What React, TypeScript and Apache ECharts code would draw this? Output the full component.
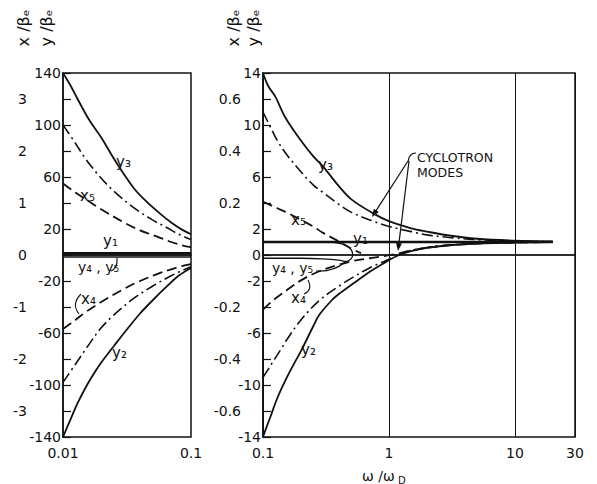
import React, { useEffect, useRef } from "react";
import * as echarts from "echarts";

// ---------- tick labels ----------
const leftXTickValues = [0.01, 0.1];
const leftXTickLabels = ["0.01", "0.1"];
const rightXTickValues = [0.1, 1, 10, 30];
const rightXTickLabels = ["0.1", "1", "10", "30"];

const leftInnerTicks = [140, 100, 60, 20, -20, -60, -100, -140];
const leftOuterTickValues = [120, 80, 40, 0, -40, -80, -120];
const leftOuterTickLabels = ["3", "2", "1", "0", "-1", "-2", "-3"];
const rightInnerTicks = [14, 10, 6, 2, 0, -2, -6, -10, -14];
const rightOuterTickValues = [12, 8, 4, -4, -8, -12];
const rightOuterTickLabels = ["0.6", "0.4", "0.2", "-0.2", "-0.4", "-0.6"];

// ---------- left panel (ω/ωD 0.01 … 0.1, y/βe) ----------
const leftY3 = [[0.01, 140], [0.0115, 130], [0.013, 120], [0.016, 104], [0.02, 90], [0.025, 74], [0.03, 62], [0.036, 51], [0.045, 41], [0.057, 32], [0.07, 25], [0.085, 19.5], [0.1, 16]];
const leftDashDotUpper = [[0.01, 100], [0.0125, 86], [0.015, 74], [0.0195, 60], [0.025, 49], [0.035, 37], [0.05, 27], [0.065, 21], [0.08, 16], [0.1, 12]];
const leftX5 = [[0.01, 55], [0.0125, 48], [0.015, 43], [0.02, 35], [0.03, 25], [0.04, 19], [0.055, 14], [0.07, 10], [0.085, 7.5], [0.1, 6]];
const leftY1 = [[0.01, 1.5], [0.1, 1.5]];
const leftY45 = [[0.01, -1.5], [0.1, -1.5]];
const leftX4 = [[0.01, -57], [0.0125, -50], [0.015, -44], [0.02, -36], [0.03, -26], [0.04, -20], [0.055, -14.5], [0.07, -11], [0.085, -8.5], [0.1, -7]];
const leftDashDotLower = [[0.01, -98], [0.0125, -84], [0.0154, -71], [0.0195, -57], [0.025, -46], [0.035, -34], [0.05, -24], [0.07, -16], [0.085, -12], [0.1, -9]];
const leftY2 = [[0.01, -140], [0.0115, -126], [0.013, -114], [0.0154, -100], [0.018, -89], [0.0205, -81], [0.025, -70], [0.03, -60], [0.04, -45], [0.05, -35], [0.065, -24], [0.08, -16], [0.1, -10]];
const leftZero = [[0.01, 0], [0.1, 0]];

// ---------- right panel (ω/ωD 0.1 … 30, y/βe) ----------
const rightY3 = [[0.1, 14], [0.11, 13], [0.125, 12.2], [0.15, 10.6], [0.2, 8.8], [0.25, 7.6], [0.3, 6.8], [0.4, 5.3], [0.5, 4.3], [0.75, 3.2], [1, 2.6], [1.5, 2.05], [2, 1.8], [3, 1.5], [5, 1.25], [10, 1.1], [20, 1.04]];
const rightDashDotUpper = [[0.1, 11], [0.115, 9.8], [0.13, 8.8], [0.155, 7.7], [0.2, 6.4], [0.25, 5.4], [0.3, 4.8], [0.4, 3.9], [0.5, 3.3], [0.75, 2.6], [1, 2.2], [1.5, 1.8], [2, 1.55], [3, 1.35], [5, 1.18], [10, 1.07], [20, 1.02]];
const rightX5 = [[0.1, 4.1], [0.13, 3.6], [0.16, 3.2], [0.2, 2.7], [0.25, 2.2], [0.3, 1.7], [0.4, 1.05], [0.5, 0.5], [0.6, 0.15]];
const rightY1 = [[0.1, 1], [20, 1]];
const rightY45 = [[0.1, -0.25], [0.2, -0.25], [0.3, -0.3], [0.4, -0.4], [0.46, -0.5], [0.5, -0.3], [0.515, 0], [0.505, 0.35], [0.47, 0.65], [0.42, 0.86], [0.36, 0.97], [0.32, 1.0]];
const rightX4 = [[0.1, -4.2], [0.12, -3.5], [0.155, -2.7], [0.2, -1.95], [0.28, -1.25], [0.4, -0.75], [0.52, -0.45], [0.7, -0.25], [0.9, -0.1], [1.1, 0.05], [1.5, 0.35], [2, 0.55], [3, 0.75], [5, 0.88], [10, 0.96], [20, 1.0]];
const rightDashDotLower = [[0.1, -9.4], [0.11, -8.8], [0.12, -8.2], [0.14, -7.2], [0.155, -6.5], [0.2, -5.0], [0.28, -3.5], [0.4, -2.4], [0.52, -1.7], [0.7, -1.0], [0.96, -0.4], [1.2, 0.05], [1.5, 0.35], [2, 0.58], [3, 0.77], [5, 0.89], [10, 0.96], [20, 1.0]];
const rightY2 = [[0.1, -14], [0.107, -13.2], [0.114, -12.5], [0.13, -11], [0.155, -9.4], [0.18, -8.2], [0.2, -7.4], [0.25, -5.5], [0.28, -4.6], [0.35, -3.5], [0.4, -3.0], [0.52, -2.2], [0.7, -1.3], [0.96, -0.5], [1.2, 0.0], [1.5, 0.3], [2, 0.55], [3, 0.75], [5, 0.88], [10, 0.95], [20, 1.0]];
const rightZero = [[0.1, 0], [30, 0]];

const FONT = '"DejaVu Sans", sans-serif';
const INK = "#111";

function pickLabel(values: number[], labels: string[], v: number, log = false) {
  const i = values.findIndex((t) =>
    log ? Math.abs(Math.log10(t) - Math.log10(v)) < 1e-3 : Math.abs(t - v) < 1e-6
  );
  return i >= 0 ? labels[i] : "";
}

const SOLID = "solid";
const DASHED = [10, 5];
const DASHDOT = [11, 4, 2, 4];

function line(name: string, data: number[][], xi: number, yi: number, type: any, width: number, smooth: any = 0.35) {
  return {
    name,
    type: "line",
    data,
    xAxisIndex: xi,
    yAxisIndex: yi,
    showSymbol: false,
    symbol: "none",
    smooth,
    silent: true,
    lineStyle: { color: INK, width, type },
  };
}

function txt(text: string, x: number, y: number, size = 14, extra: any = {}, rotation = 0) {
  return {
    type: "text",
    x,
    y,
    rotation,
    silent: true,
    style: {
      text,
      fill: INK,
      font: `${size}px ${FONT}`,
      align: "left",
      verticalAlign: "middle",
      ...extra,
    },
  };
}

function arrow(x1: number, y1: number, x2: number, y2: number) {
  const dx = x2 - x1;
  const dy = y2 - y1;
  const len = Math.sqrt(dx * dx + dy * dy);
  const ux = dx / len;
  const uy = dy / len;
  const L = 8;
  const W = 3;
  return [
    {
      type: "line",
      silent: true,
      shape: { x1, y1, x2: x2 - ux * L * 0.8, y2: y2 - uy * L * 0.8 },
      style: { stroke: INK, lineWidth: 1.2 },
    },
    {
      type: "polygon",
      silent: true,
      shape: {
        points: [
          [x2, y2],
          [x2 - ux * L - uy * W, y2 - uy * L + ux * W],
          [x2 - ux * L + uy * W, y2 - uy * L - ux * W],
        ],
      },
      style: { fill: INK },
    },
  ];
}

function curve(x1: number, y1: number, cpx1: number, cpy1: number, x2: number, y2: number) {
  return {
    type: "bezierCurve",
    silent: true,
    shape: { x1, y1, cpx1, cpy1, x2, y2 },
    style: { stroke: INK, lineWidth: 1.1, fill: "none" },
  };
}

export default function App() {
  const ref = useRef<HTMLDivElement>(null);

  useEffect(() => {
    if (!ref.current) return;
    const chart = echarts.init(ref.current, undefined, { renderer: "svg" });

    const axisLineStyle = { color: INK, width: 1.5 };
    const labelBase = { color: INK, fontFamily: FONT, fontSize: 14 };
    const UP = Math.PI / 2;

    const option: any = {
      animation: false,
      backgroundColor: "#fff",
      textStyle: { fontFamily: FONT },
      grid: [
        { left: 63, top: 73, width: 128, height: 364, show: true, borderColor: INK, borderWidth: 1.5, backgroundColor: "transparent" },
        { left: 263, top: 73, width: 312, height: 364, show: true, borderColor: INK, borderWidth: 1.5, backgroundColor: "transparent" },
      ],
      xAxis: [
        {
          type: "log",
          logBase: 10,
          gridIndex: 0,
          min: 0.01,
          max: 0.1,
          axisLine: { lineStyle: axisLineStyle },
          axisTick: { show: false },
          splitLine: { show: false },
          axisLabel: { ...labelBase, margin: 9, formatter: (v: number) => pickLabel(leftXTickValues, leftXTickLabels, v, true) },
        },
        {
          type: "log",
          logBase: 10,
          gridIndex: 1,
          min: 0.1,
          max: 30,
          axisLine: { lineStyle: axisLineStyle },
          axisTick: { show: false },
          splitLine: { show: true, lineStyle: { color: INK, width: 1 } },
          axisLabel: { ...labelBase, margin: 9, showMaxLabel: true, formatter: (v: number) => pickLabel(rightXTickValues, rightXTickLabels, v, true) },
        },
      ],
      yAxis: [
        {
          type: "value",
          gridIndex: 0,
          position: "left",
          min: -140,
          max: 140,
          interval: 20,
          axisLine: { show: true, lineStyle: axisLineStyle },
          axisTick: { show: true, inside: true, length: 8, lineStyle: { color: INK, width: 1.2 } },
          splitLine: { show: false },
          axisLabel: { ...labelBase, margin: 2, formatter: (v: number) => pickLabel(leftInnerTicks, leftInnerTicks.map(String), v) },
        },
        {
          type: "value",
          gridIndex: 0,
          position: "left",
          min: -140,
          max: 140,
          interval: 20,
          offset: 34,
          axisLine: { show: false },
          axisTick: { show: false },
          splitLine: { show: false },
          axisLabel: { ...labelBase, margin: 2, formatter: (v: number) => pickLabel(leftOuterTickValues, leftOuterTickLabels, v) },
        },
        {
          type: "value",
          gridIndex: 1,
          position: "left",
          min: -14,
          max: 14,
          interval: 2,
          axisLine: { show: true, lineStyle: axisLineStyle },
          axisTick: { show: true, inside: true, length: 8, lineStyle: { color: INK, width: 1.2 } },
          splitLine: { show: false },
          axisLabel: { ...labelBase, margin: 2, formatter: (v: number) => pickLabel(rightInnerTicks, rightInnerTicks.map(String), v) },
        },
        {
          type: "value",
          gridIndex: 1,
          position: "left",
          min: -14,
          max: 14,
          interval: 2,
          offset: 20,
          axisLine: { show: false },
          axisTick: { show: false },
          splitLine: { show: false },
          axisLabel: { ...labelBase, margin: 2, formatter: (v: number) => pickLabel(rightOuterTickValues, rightOuterTickLabels, v) },
        },
      ],
      series: [
        line("zeroL", leftZero, 0, 0, SOLID, 1.3, false),
        line("y3L", leftY3, 0, 0, SOLID, 1.8),
        line("ddUL", leftDashDotUpper, 0, 0, DASHDOT, 1.6),
        line("x5L", leftX5, 0, 0, DASHED, 1.8),
        line("y1L", leftY1, 0, 0, SOLID, 2.2, false),
        line("y45L", leftY45, 0, 0, SOLID, 1.6, false),
        line("x4L", leftX4, 0, 0, DASHED, 1.8),
        line("ddLL", leftDashDotLower, 0, 0, DASHDOT, 1.6),
        line("y2L", leftY2, 0, 0, SOLID, 1.8),

        line("zeroR", rightZero, 1, 2, SOLID, 1.2, false),
        line("y3R", rightY3, 1, 2, SOLID, 1.8),
        line("ddUR", rightDashDotUpper, 1, 2, DASHDOT, 1.6),
        line("x5R", rightX5, 1, 2, DASHED, 1.8),
        line("y1R", rightY1, 1, 2, SOLID, 2.6, false),
        line("y45R", rightY45, 1, 2, SOLID, 1.3, 0.4),
        line("x4R", rightX4, 1, 2, DASHED, 1.8),
        line("ddLR", rightDashDotLower, 1, 2, DASHDOT, 1.6),
        line("y2R", rightY2, 1, 2, SOLID, 1.8),
      ],
      graphic: [
        // vertical axis titles
        txt("x /βₑ", 23, 28, 16, { align: "center" }, UP),
        txt("y /βₑ", 46, 28, 16, { align: "center" }, UP),
        txt("x /βₑ", 233, 28, 16, { align: "center" }, UP),
        txt("y /βₑ", 253, 28, 16, { align: "center" }, UP),
        // bottom axis title
        txt("ω /ω", 362, 476, 14),
        txt("D", 398, 480, 10),
        // left panel curve labels
        txt("y₃", 116, 162, 15),
        txt("x₅", 80, 196, 15),
        txt("y₁", 103, 241, 15),
        txt("y₄ , y₅", 78, 267, 14),
        txt("x₄", 81, 299, 15),
        txt("y₂", 112, 353, 15),
        curve(111, 271, 118, 268, 117, 258),
        curve(81, 294, 71, 304, 79, 314),
        // right panel curve labels
        txt("y₃", 318, 165, 15),
        txt("x₅", 291, 220, 15),
        txt("y₁", 353, 239, 15),
        txt("y₄ , y₅", 272, 268, 14),
        txt("x₄", 291, 298, 15),
        txt("y₂", 301, 350, 15),
        curve(316, 271, 334, 272, 345, 262),
        curve(304, 294, 313, 290, 308, 280),
        // cyclotron modes
        txt("CYCLOTRON", 417, 157, 12.5),
        txt("MODES", 417, 172, 12.5),
        curve(416, 153, 409, 153, 408, 162),
        ...arrow(408, 161, 372, 217),
        ...arrow(409, 161, 398, 251),
      ],
    };

    chart.setOption(option);
    return () => chart.dispose();
  }, []);

  return (
    <div
      ref={ref}
      style={{ position: "absolute", left: 0, top: 0, width: 597, height: 484, background: "#fff" }}
    />
  );
}
